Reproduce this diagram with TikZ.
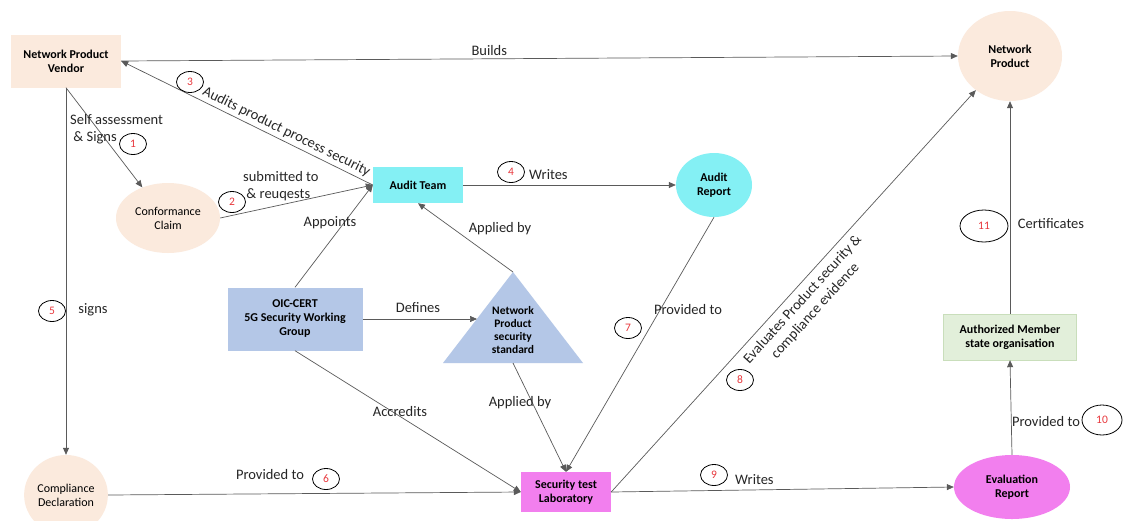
\documentclass[tikz,border=0pt]{standalone}
\usepackage{fontspec}
\setmainfont{Carlito}
\usetikzlibrary{arrows.meta,positioning,shapes.geometric,calc}
\definecolor{ebpeach}{HTML}{FBEADD}
\definecolor{ebcyan}{HTML}{84F0F4}
\definecolor{ebblue}{HTML}{B4C7E7}
\definecolor{ebmag}{HTML}{F27FEE}
\definecolor{ebgreen}{HTML}{E2EFDA}
\definecolor{ebgreenline}{HTML}{C9DEBB}
\definecolor{ebline}{HTML}{5A5A5A}
\definecolor{ebred}{HTML}{E8383D}
\tikzset{
  block/.style={rectangle, align=center, font=\bfseries\fontsize{12}{14}\selectfont, inner sep=2pt},
  oval/.style={ellipse, align=center, font=\bfseries\fontsize{12}{14}\selectfont, inner sep=1pt},
  plain/.style={font=\fontsize{12}{14}\selectfont},
  lbl/.style={font=\fontsize{14.5}{17}\selectfont, inner sep=1pt, text=black!85},
  num/.style={ellipse, draw=black, thick, text=ebred, font=\fontsize{11.5}{12}\selectfont,
              minimum width=27pt, minimum height=21pt, inner sep=0pt},
  ar/.style={-{Triangle[length=7pt,width=6pt]}, draw=ebline, line width=0.7pt},
}
\begin{document}
\begin{tikzpicture}[x=1pt,y=-1pt]
\clip (0,0) rectangle (1123,520);
\fill[white] (0,0) rectangle (1123,520);
% --- nodes
\node[block,fill=ebpeach,minimum width=110,minimum height=53] (vendor) at (66,61) {Network Product\\Vendor};
\node[oval,fill=ebpeach,minimum width=104,minimum height=90] (product) at (1010,56) {Network\\Product};
\node[oval,plain,fill=ebpeach,minimum width=104,minimum height=70] (claim) at (168,218) {Conformance\\Claim};
\node[block,fill=ebcyan,minimum width=90,minimum height=36] (audit) at (418,185) {Audit Team};
\node[oval,fill=ebcyan,minimum width=76,minimum height=64] (areport) at (714,185) {Audit\\Report};
\node[block,fill=ebblue,minimum width=135,minimum height=63] (oic) at (295,319) {OIC-CERT\\5G Security Working\\Group};
\fill[ebblue] (443,363) -- (513,272) -- (583,363) -- cycle;
\node[block,inner sep=0pt,font=\bfseries\fontsize{11.5}{13}\selectfont] (std) at (513,330) {Network\\Product\\security\\standard};
\coordinate (stdtop) at (513,272);
\coordinate (stdleft) at (477,319);
\coordinate (stdbot) at (513,363);
\node[block,fill=ebmag,minimum width=90,minimum height=40] (lab) at (566,492) {Security test\\Laboratory};
\node[oval,fill=ebmag,minimum width=116,minimum height=64] (ereport) at (1012,487) {Evaluation\\Report};
\node[block,fill=ebgreen,draw=ebgreenline,minimum width=133,minimum height=46] (auth) at (1010,337) {Authorized Member\\state organisation};
\node[oval,plain,fill=ebpeach,minimum width=78,minimum height=80] (decl) at (66,495) {Compliance\\Declaration};

% --- connectors
\draw[ar] (vendor.east) -- (product.west) node[lbl,pos=0.44,above=2pt] (lbuilds) {Builds};
\draw[ar] (audit.west) -- (vendor.east)
   node[lbl,pos=0.36,sloped,above=2pt] (laudits) {Audits product process security};
\draw[ar] (vendor.south) -- (claim.130);
\draw[ar] (claim.east) -- (audit.west);
\draw[ar] (oic.north) -- (audit.west);
\draw[ar] (audit.east) -- (areport.west);
\draw[ar] (stdtop) -- (audit.south);
\draw[ar] (oic.east) -- (stdleft);
\draw[ar] (oic.south) -- (lab.west);
\draw[ar] (stdbot) -- (lab.north);
\draw[ar] (areport.south) -- (lab.north);
\draw[ar] (lab.east) -- (product.225)
   node[lbl,pos=0.5,sloped,below=5pt,align=center] (leval) {Evaluates Product security \&\\compliance evidence};
\draw[ar] (vendor.south) -- (decl.north);
\draw[ar] (decl.east) -- (lab.west);
\draw[ar] (lab.east) -- (ereport.west);
\draw[ar] (ereport.north) -- (auth.south);
\draw[ar] (auth.north) -- (product.south);

% --- labels
\node[lbl,anchor=west,align=left] (lself) at (69,129) {Self assessment\\\ \& Signs};
\node[lbl,anchor=west,align=left] (lsub) at (242,186) {submitted to\\\ \& reuqests};
\node[lbl] (lappoints) at (330,223) {Appoints};
\node[lbl,anchor=west] (lwrites) at (528,175) {Writes};
\node[lbl] (lapplied) at (500,229) {Applied by};
\node[lbl] (ldefines) at (418,308) {Defines};
\node[lbl] (lprov7) at (688,310) {Provided to};
\node[lbl] (lsigns) at (93,310) {signs};
\node[lbl] (laccr) at (400,412) {Accredits};
\node[lbl] (lapplied2) at (520,403) {Applied by};
\node[lbl] (lprov6) at (270,475) {Provided to};
\node[lbl,anchor=west] (lwrites2) at (734,480) {Writes};
\node[lbl] (lprov10) at (1046,422) {Provided to};
\node[lbl] (lcert) at (1051,224) {Certificates};

% --- step numbers
\node[num] (n1) at (133,144) {1};
\node[num] (n2) at (232,202) {2};
\node[num] (n3) at (190,82) {3};
\node[num] (n4) at (511,172) {4};
\node[num] (n5) at (52,311) {5};
\node[num] (n6) at (326,479) {6};
\node[num] (n7) at (628,328) {7};
\node[num] (n8) at (740,380) {8};
\node[num] (n9) at (714,475) {9};
\node[num,minimum width=40,minimum height=30] (n10) at (1102,420) {10};
\node[num,minimum width=48,minimum height=32] (n11) at (984,226) {11};
\end{tikzpicture}
\end{document}
